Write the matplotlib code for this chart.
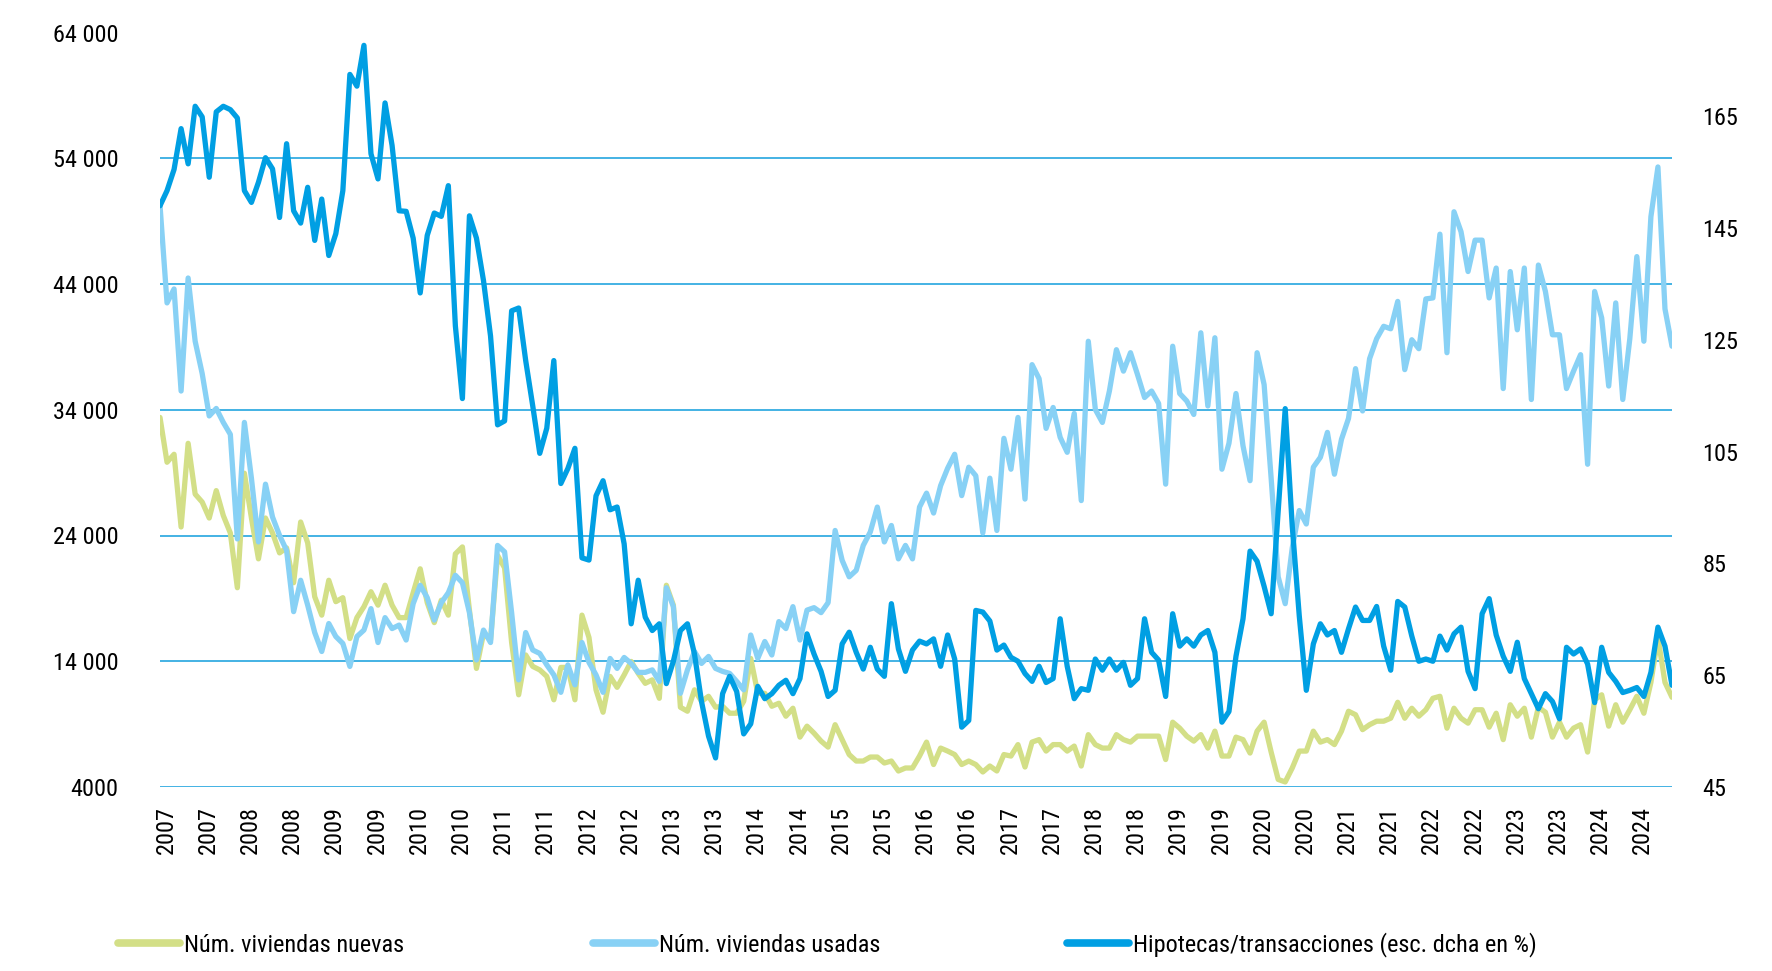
import matplotlib
matplotlib.use('Agg')
import matplotlib.pyplot as plt
import matplotlib.transforms as mtransforms
from matplotlib.lines import Line2D

# ---------------- data (monthly, Jan 2007 - Dec 2024) ----------------
nuevas = [
    33389, 29825, 30459, 24678, 31330, 27291, 26657, 25390, 27568, 25588,
    24202, 19846, 28954, 25390, 22143, 25390, 24202, 22618, 23014, 20242,
    25073, 23410, 19133, 17668, 20440, 18737, 19054, 15807, 17470, 18341,
    19529, 18460, 20044, 18460, 17470, 17470, 19450, 21351, 18658, 17074,
    18856, 17668, 22539, 23093, 18064, 13431, 16203, 15688, 22420, 21430,
    15490, 11332, 14500, 13590, 13312, 12797, 10936, 13510, 13510, 10936,
    17668, 15886, 11728, 9946, 12797, 11926, 12916, 13985, 13035, 12243,
    12520, 11055, 20044, 18460, 10342, 10025, 11728, 10817, 11213, 10342,
    10421, 9867, 9867, 10817, 14223, 11451, 11451, 10421, 10659, 9630,
    10263, 7966, 8838, 8283, 7650, 7174, 8956, 7768, 6580, 6065,
    6065, 6382, 6382, 5907, 6065, 5273, 5511, 5511, 6461, 7570,
    5788, 7095, 6857, 6580, 5788, 6065, 5788, 5194, 5669, 5273,
    6580, 6461, 7372, 5590, 7570, 7768, 6857, 7372, 7372, 6857,
    7253, 5669, 8164, 7372, 7095, 7095, 8164, 7768, 7570, 8045,
    8045, 8045, 8045, 6184, 9154, 8679, 8045, 7649, 8164, 7095,
    8441, 6461, 6461, 7966, 7768, 6699, 8441, 9154, 6778, 4600,
    4402, 5511, 6857, 6857, 8441, 7570, 7768, 7372, 8441, 10025,
    9748, 8560, 8956, 9233, 9233, 9471, 10738, 9471, 10263, 9630,
    10144, 11055, 11213, 8679, 10263, 9471, 9075, 10144, 10144, 8758,
    9867, 7768, 10540, 9630, 10263, 7966, 10342, 9946, 7966, 9154,
    7966, 8679, 8956, 6778, 10936, 11332, 8838, 10540, 9154, 10144,
    11213, 9867, 12322, 15886, 12322, 11134,
]

usadas = [
    50259, 42497, 43606, 35488, 44477, 39448, 36874, 33508, 34102, 32993,
    32043, 23727, 32993, 28558, 23489, 28083, 25469, 24004, 22816, 17945,
    20440, 18460, 16282, 14777, 17000, 15966, 15411, 13590, 15966, 16480,
    18183, 15490, 17470, 16599, 16876, 15688, 18579, 20044, 19054, 17272,
    18658, 19450, 20836, 20242, 17866, 14104, 16480, 15490, 23212, 22697,
    17866, 12520, 16282, 14896, 14619, 13708, 12916, 11530, 13708, 12124,
    15490, 13906, 12916, 11530, 14223, 13431, 14302, 13827, 13114, 13114,
    13312, 12401, 19846, 18341, 11451, 13312, 14777, 13827, 14381, 13431,
    13193, 13035, 12401, 11728, 16084, 14223, 15569, 14500, 17153, 16599,
    18341, 15688, 18064, 18262, 17866, 18658, 24400, 22024, 20717, 21232,
    23212, 24281, 26261, 23489, 24796, 22143, 23212, 22143, 26261, 27370,
    25786, 27964, 29350, 30459, 27172, 29429, 28756, 24202, 28558, 24400,
    31726, 29271, 33389, 26895, 37587, 36478, 32518, 34181, 31805, 30617,
    33706, 26776, 39448, 34023, 32993, 35488, 38775, 37072, 38535, 36795,
    34973, 35488, 34498, 28083, 39052, 35290, 34696, 33627, 40121, 34300,
    39725, 29271, 31330, 35290, 31132, 28360, 38535, 36003, 28558, 20717,
    18579, 23014, 25984, 24915, 29429, 30221, 32201, 28874, 31647, 33310,
    37270, 33904, 38062, 39646, 40636, 40438, 42616, 37191, 39567, 38854,
    42814, 42893, 47962, 38537, 49744, 48160, 44992, 47487, 47487, 42893,
    45269, 35686, 44992, 40359, 45269, 34815, 45507, 43408, 39963, 39963,
    35686, 37072, 38379, 29667, 43408, 41309, 35884, 42497, 34815, 39646,
    46180, 39448, 49348, 53308, 42022, 39052,
]

hipotecas = [
    149.0, 151.7, 155.5, 162.8, 156.5, 166.8, 164.9, 154.1, 165.8, 166.8,
    166.2, 164.7, 151.7, 149.6, 153.2, 157.6, 155.6, 146.9, 160.1, 148.1,
    145.9, 152.3, 142.8, 150.2, 140.1, 144.0, 151.7, 172.5, 170.4, 177.7,
    158.3, 153.8, 167.4, 159.8, 148.1, 148.0, 143.2, 133.4, 143.7, 147.7,
    147.1, 152.6, 127.5, 114.5, 147.2, 143.2, 135.6, 125.7, 109.8, 110.5,
    130.2, 130.7, 121.3, 113.2, 104.7, 109.2, 121.3, 99.3, 102.0, 105.6,
    86.0, 85.6, 97.1, 99.8, 94.6, 95.1, 88.5, 74.2, 82.0, 75.4,
    73.0, 74.2, 63.5, 67.5, 73.0, 74.2, 68.8, 60.3, 54.1, 50.2,
    61.7, 64.8, 62.1, 54.5, 56.3, 63.0, 60.8, 61.7, 63.2, 64.1,
    61.7, 64.4, 72.4, 68.8, 65.7, 61.2, 62.3, 70.6, 72.7, 69.1,
    66.1, 70.0, 66.1, 64.8, 77.8, 69.7, 65.7, 69.5, 71.1, 70.6,
    71.5, 66.6, 72.2, 67.9, 55.7, 56.9, 76.6, 76.3, 74.7, 69.5,
    70.4, 68.2, 67.5, 65.3, 63.9, 66.6, 63.7, 64.4, 75.1, 66.6,
    60.8, 62.6, 62.3, 67.9, 65.9, 67.9, 65.9, 67.3, 63.2, 64.4,
    75.1, 69.1, 67.7, 61.2, 76.0, 70.2, 71.5, 70.2, 72.2, 73.0,
    69.1, 56.6, 58.5, 68.4, 75.1, 87.2, 85.4, 80.9, 76.0, 94.4,
    112.7, 91.7, 75.6, 62.3, 70.6, 74.2, 72.2, 73.0, 69.1, 73.3,
    77.2, 74.8, 74.8, 77.3, 70.2, 65.9, 78.2, 77.2, 72.0, 67.5,
    67.9, 67.5, 72.0, 69.5, 72.4, 73.6, 65.7, 62.6, 76.0, 78.7,
    72.2, 68.4, 65.7, 70.9, 64.4, 61.7, 59.0, 61.7, 60.3, 57.2,
    70.0, 68.8, 69.7, 67.0, 60.1, 70.0, 65.5, 63.9, 61.9, 62.3,
    62.8, 61.2, 65.5, 73.6, 70.2, 63.2,
]

x_tick_labels = ['2007', '2007', '2008', '2008', '2009', '2009', '2010', '2010',
                 '2011', '2011', '2012', '2012', '2013', '2013', '2014', '2014',
                 '2015', '2015', '2016', '2016', '2017', '2017', '2018', '2018',
                 '2019', '2019', '2020', '2020', '2021', '2021', '2022', '2022',
                 '2023', '2023', '2024', '2024']
left_ticks = [4000, 14000, 24000, 34000, 44000, 54000, 64000]
left_labels = ['4000', '14 000', '24 000', '34 000', '44 000', '54 000', '64 000']
right_ticks = [45, 65, 85, 105, 125, 145, 165]
right_labels = ['45', '65', '85', '105', '125', '145', '165']
series_names = ['Núm. viviendas nuevas', 'Núm. viviendas usadas',
                'Hipotecas/transacciones (esc. dcha en %)']

# ---------------- style ----------------
plt.rcParams['font.family'] = ['Roboto Condensed', 'Barlow Semi Condensed', 'Roboto', 'DejaVu Sans']
FS = 17.5
C_NEW = '#d3df87'
C_USED = '#88d1f5'
C_MORT = '#009fe3'
C_GRID = '#35ade2'
LW = 3.8

W, H = 1772, 971
fig = plt.figure(figsize=(W / 100, H / 100), dpi=100)
L, R, T, B = 160, 1672, 32.5, 787
ax = fig.add_axes([L / W, 1 - B / H, (R - L) / W, (B - T) / H])
ax2 = ax.twinx()

x = list(range(len(nuevas)))
ax.plot(x, nuevas, color=C_NEW, lw=LW, solid_joinstyle='round', solid_capstyle='round', zorder=3)
ax.plot(x, usadas, color=C_USED, lw=LW, solid_joinstyle='round', solid_capstyle='round', zorder=4)
ax2.plot(x, hipotecas, color=C_MORT, lw=LW, solid_joinstyle='round', solid_capstyle='round', zorder=5)

ax.set_xlim(0, len(nuevas) - 1)
ax.set_ylim(4000, 64000)
ax2.set_ylim(45, 180)

ax.set_yticks(left_ticks)
ax.set_yticklabels(left_labels)
ax2.set_yticks(right_ticks)
ax2.set_yticklabels(right_labels)
ax.set_xticks(list(range(0, len(nuevas), 6)))
ax.set_xticklabels(x_tick_labels, rotation=90)

ax.grid(axis='y', color=C_GRID, lw=1.3)
ax.grid(axis='x', visible=False)
ax.set_axisbelow(True)
for a in (ax, ax2):
    for s in a.spines.values():
        s.set_visible(False)
    a.patch.set_visible(False)

ax.tick_params(axis='y', length=0, pad=30, labelsize=FS)
ax.tick_params(axis='x', length=0, pad=14, labelsize=FS)
ax2.tick_params(axis='y', length=0, pad=22, labelsize=FS)

off = mtransforms.ScaledTranslation(6 / 100, 0, fig.dpi_scale_trans)
for lbl in ax.get_xticklabels():
    lbl.set_transform(lbl.get_transform() + off)

# ---------------- legend (three items in one row) ----------------
leg_x = [118, 593, 1067]
leg_y = 945
for name, col, lx in zip(series_names, [C_NEW, C_USED, C_MORT], leg_x):
    h = Line2D([0], [0], color=col, lw=5.5, solid_capstyle='round')
    fig.legend(handles=[h], labels=[name], loc='center left',
               bbox_to_anchor=(lx / W, 1 - leg_y / H), frameon=False,
               fontsize=FS, handlelength=2.55, handletextpad=0.15,
               borderpad=0, borderaxespad=0)

fig.savefig('out.png', dpi=100)
